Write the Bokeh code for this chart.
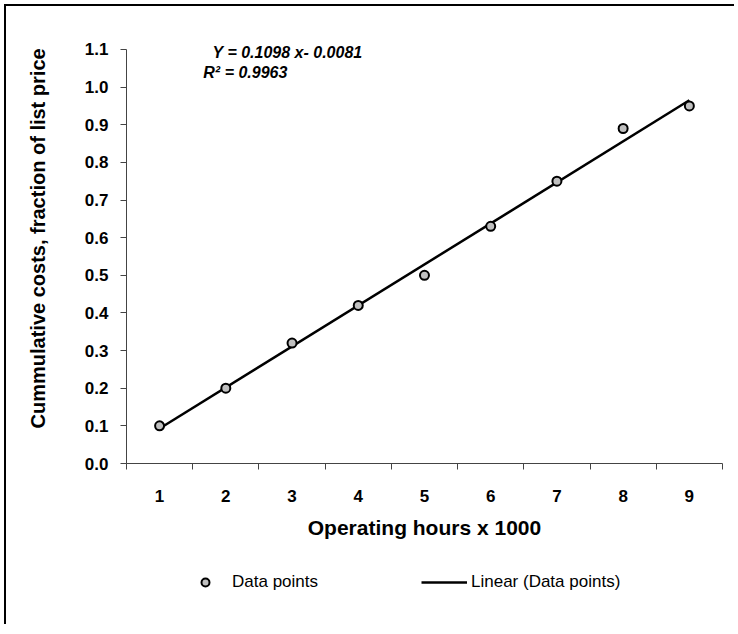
import math
import numpy as np
from bokeh.plotting import figure
from bokeh.models import (Range1d, FixedTicker, Label, Legend, LegendItem,
                          PrintfTickFormatter)
from bokeh.embed import file_html
from bokeh.resources import INLINE

# ---- data ----
hours = [1, 2, 3, 4, 5, 6, 7, 8, 9]
costs = [0.10, 0.20, 0.32, 0.42, 0.50, 0.63, 0.75, 0.89, 0.95]
y_ticks = [0.0, 0.1, 0.2, 0.3, 0.4, 0.5, 0.6, 0.7, 0.8, 0.9, 1.0, 1.1]
x_boundaries = [0.5, 1.5, 2.5, 3.5, 4.5, 5.5, 6.5, 7.5, 8.5, 9.5]
eq_text = "Y  = 0.1098 x- 0.0081"
r2_text = "R\u00b2  = 0.9963"
y_title = "Cummulative costs, fraction of list price"
x_title = "Operating hours x 1000"

FONT = "Liberation Sans"

# the frame covers the whole canvas; axes sit at fixed positions inside it
p = figure(width=730, height=620, output_backend="svg", toolbar_location=None,
           x_range=Range1d(-1.312, 9.712), y_range=Range1d(-0.4330, 1.2141),
           min_border_left=0, min_border_right=0,
           min_border_top=0, min_border_bottom=0,
           styles={"position": "relative", "left": "4px", "top": "4px",
                   "border-left": "2px solid black",
                   "border-top": "2px solid black",
                   "border-right": "none", "border-bottom": "none",
                   "outline": "none", "box-shadow": "none"})
p.grid.visible = False
p.outline_line_color = None
p.outline_line_alpha = 0

# y axis
ya = p.yaxis[0]
ya.fixed_location = 0.5
ya.bounds = (0, 1.1)
ya.ticker = FixedTicker(ticks=y_ticks)
ya.formatter = PrintfTickFormatter(format="%.1f")
ya.major_tick_out = 6
ya.major_tick_in = 0
ya.minor_tick_out = 0
ya.minor_tick_in = 0
ya.major_label_standoff = 12
ya.major_label_text_font = FONT
ya.major_label_text_font_style = "bold"
ya.major_label_text_font_size = "17px"
ya.major_label_text_color = "black"
ya.axis_line_color = "#444444"
ya.major_tick_line_color = "#444444"

# y axis title (placed beside the axis, centred like the original)
p.add_layout(Label(x=-0.829, y=0.598, text=y_title, angle=math.pi / 2,
                   text_font=FONT, text_font_style="bold",
                   text_font_size="20px", text_color="black",
                   text_align="center", text_baseline="middle"))

# x axis
xa = p.xaxis[0]
xa.fixed_location = 0
xa.bounds = (0.5, 9.5)
xa.ticker = FixedTicker(ticks=hours, minor_ticks=x_boundaries)
xa.major_tick_out = 0
xa.major_tick_in = 0
xa.minor_tick_out = 6
xa.minor_tick_in = 0
xa.major_label_standoff = 20
xa.major_label_text_font = FONT
xa.major_label_text_font_style = "bold"
xa.major_label_text_font_size = "17px"
xa.major_label_text_color = "black"
xa.axis_line_color = "#444444"
xa.minor_tick_line_color = "#444444"
xa.axis_label = x_title
xa.axis_label_text_font = FONT
xa.axis_label_text_font_style = "bold"
xa.axis_label_text_font_size = "21px"
xa.axis_label_text_color = "black"
xa.axis_label_standoff = 11

# linear trend fitted from the data
slope, intercept = np.polyfit(hours, costs, 1)
fit_x = [hours[0], hours[-1]]
fit_y = [slope * v + intercept for v in fit_x]
line_r = p.line(fit_x, fit_y, line_color="black", line_width=2.5)

pts_r = p.scatter(hours, costs, size=9, fill_color="#c0c0c0",
                  line_color="black", line_width=2)

p.add_layout(Label(x=1.80, y=1.092, text=eq_text, text_font=FONT,
                   text_font_style="bold italic", text_font_size="16px",
                   text_color="black", text_baseline="alphabetic"))
p.add_layout(Label(x=1.66, y=1.039, text=r2_text, text_font=FONT,
                   text_font_style="bold italic", text_font_size="16px",
                   text_color="black", text_baseline="alphabetic"))

legend = Legend(items=[LegendItem(label="Data points", renderers=[pts_r]),
                       LegendItem(label="Linear (Data points)", renderers=[line_r])],
                orientation="horizontal", location=(176, 34),
                glyph_width=46, glyph_height=20, label_standoff=4,
                spacing=103, padding=0, margin=0,
                border_line_color=None, background_fill_alpha=0,
                label_text_font=FONT, label_text_font_size="17px",
                label_text_color="black")
p.add_layout(legend, "center")

open("out.html", "w").write(file_html(p, INLINE))
